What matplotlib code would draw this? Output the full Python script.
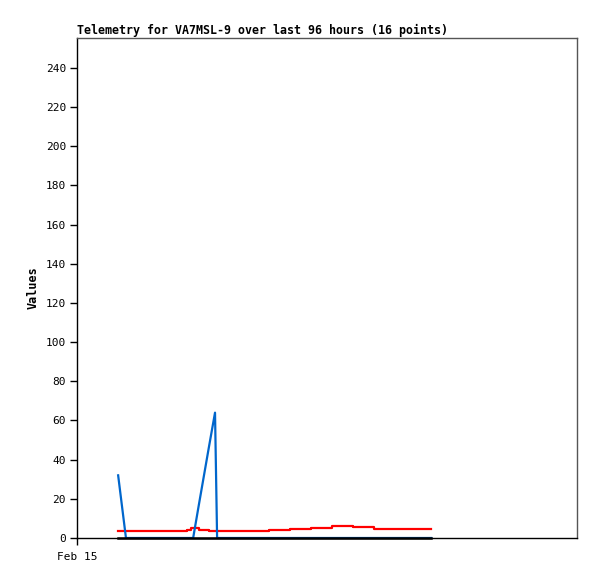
import matplotlib
matplotlib.use("Agg")
import matplotlib.pyplot as plt

# hours since Feb 15 00:00
hours = [7.9, 9.4, 21.1, 21.9, 22.3, 23.4, 25.3, 26.5, 26.9, 36.9, 40.9, 44.9, 49.0, 53.0, 57.0, 68.0]
blue_vals = [32, 0, 0, 0, 0, 17, 46, 64, 0, 0, 0, 0, 0, 0, 0, 0]
red_vals = [3.7, 3.7, 4.2, 4.9, 4.9, 4.2, 3.7, 3.7, 3.7, 4.2, 4.75, 5.25, 6.0, 5.45, 4.75, 4.75]
black_vals = [0] * 16
xtick_pos = [0]
xtick_labels = ["Feb 15"]
yticks = list(range(0, 241, 20))
title = "Telemetry for VA7MSL-9 over last 96 hours (16 points)"

W, H = 597, 579
fig = plt.figure(figsize=(W / 100, H / 100), dpi=100)
ax = fig.add_axes([77 / W, (H - 538) / H, 500 / W, 500 / H])

mono = "DejaVu Sans Mono"
ax.plot(hours, red_vals, color="#ff0000", lw=1.6, drawstyle="steps-post", zorder=3)
ax.plot(hours, blue_vals, color="#0066cc", lw=1.6, zorder=4)
ax.plot(hours, black_vals, color="black", lw=1.8, zorder=5, clip_on=False)

ax.set_xlim(0, 96)
ax.set_ylim(0, 255.3)
ax.set_yticks(yticks)
ax.set_yticklabels([str(v) for v in yticks], family=mono, fontsize=8)
ax.set_xticks(xtick_pos)
ax.set_xticklabels(xtick_labels, family=mono, fontsize=8)
ax.tick_params(axis="both", direction="out", length=5, width=1, color="black", pad=3)
ax.tick_params(axis="x", pad=5)

for s in ax.spines.values():
    s.set_color("#555555")
    s.set_linewidth(1)
ax.spines["left"].set_color("black")
ax.spines["bottom"].set_color("black")

ax.set_title(title, family=mono, fontweight="bold", fontsize=8.35, loc="left", pad=3)
ax.set_ylabel("Values", family=mono, fontweight="bold", fontsize=8.5, labelpad=4)

fig.savefig("out.png", dpi=100)
